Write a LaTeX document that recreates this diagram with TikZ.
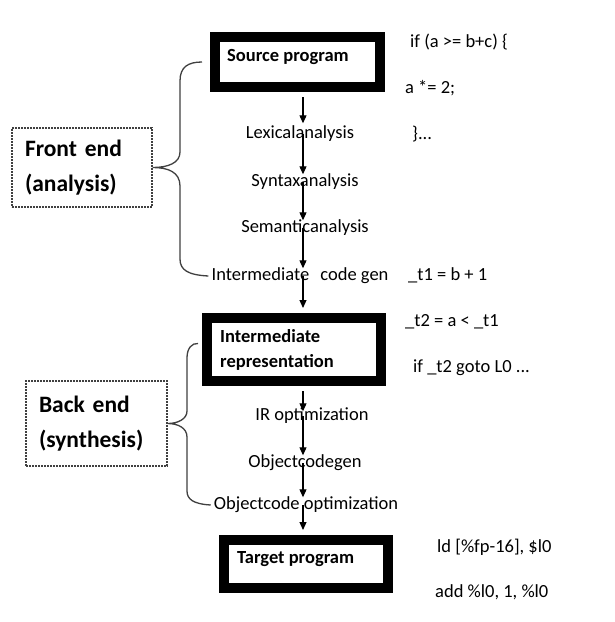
\documentclass[tikz,border=0pt]{standalone}
\usepackage{fontspec}
\setmainfont{Carlito}
\usetikzlibrary{arrows.meta,calc}
\begin{document}
\begin{tikzpicture}[x=1pt,y=-1pt,
 every node/.style={inner sep=0pt},
 lbl/.style={font=\fontsize{18.5}{22}\selectfont, text height=13pt, text depth=4pt},
 code/.style={lbl, anchor=west},
 bigbox/.style={draw, line width=10pt, inner sep=0pt},
 boxtext/.style={anchor=west, font=\fontsize{18.5}{25}\selectfont\bfseries, align=left},
 endbox/.style={draw=black!75, line width=1.3pt, dash pattern=on 1.6pt off 1.4pt, align=left,
   font=\fontsize{23.5}{35}\selectfont\bfseries, inner xsep=13pt},
 arr/.style={line width=1.1pt, -{Triangle[width=7pt,length=8pt]}},
 brc/.style={line width=1.3pt, black!75},
]
\fill[white] (0,0) rectangle (614,622);
\useasboundingbox (0,0) rectangle (614,622);
\coordinate (spine) at (303,0);

% main boxes
\node[bigbox, minimum width=165pt, minimum height=50pt] (src) at (297.5,62) {};
\node[boxtext] (srct) at (227,57) {Source program};
\node[bigbox, minimum width=174pt, minimum height=63pt] (ir) at (294,349.5) {};
\node[boxtext] (irt) at (220,349.5) {Intermediate\\representation};
\node[bigbox, minimum width=164pt, minimum height=48pt] (tgt) at (306,564) {};
\node[boxtext] (tgtt) at (237,559) {Target program};

% flow labels
\node[lbl] (lex) at (300,134) {Lexicalanalysis};
\node[lbl] (syn) at (305,182) {Syntaxanalysis};
\node[lbl] (sem) at (305,228) {Semanticanalysis};
\node[lbl] (icg) at (300,276) {Intermediate\hspace{0.6em}code gen};
\node[lbl] (iro) at (312,416) {IR optimization};
\node[lbl] (ocg) at (305,463) {Objectcodegen};
\node[lbl] (oco) at (306,505) {Objectcode optimization};

% front / back end
\node[endbox, text width=114pt, minimum height=79pt] (fe) at (82,167.5) {Front end\\(analysis)};
\node[endbox, text width=115pt, minimum height=85pt] (be) at (96.5,423.5) {Back end\\(synthesis)};

% code
\node[code] (c1) at (410,43) {if (a >= b+c) \{};
\node[code] (c2) at (405,89) {a *= 2;};
\node[code] (c3) at (412,135) {\}...};
\node[code] (c4) at (408,276) {\_t1 = b + 1};
\node[code] (c5) at (405,322) {\_t2 = a < \_t1};
\node[code] (c6) at (413,368) {if \_t2 goto L0 ...};
\node[code] (c7) at (437,548) {ld [\%fp-16], \$l0};
\node[code] (c8) at (435,593) {add \%l0, 1, \%l0};

% arrows
\draw[arr] ([yshift=-5pt]src.south -| spine) -- ([yshift=2pt]lex.north -| spine);
\draw[arr] (lex.center -| spine) -- ([yshift=-1pt]syn.north -| spine);
\draw[arr] (syn.center -| spine) -- ([yshift=-1pt]sem.north -| spine);
\draw[arr] (sem.center -| spine) -- ([yshift=-1pt]icg.north -| spine);
\draw[arr] (icg.center -| spine) -- ([yshift=5pt]ir.north -| spine);
\draw[arr] ([yshift=-5pt]ir.south -| spine) -- ([yshift=-4pt]iro.north -| spine);
\draw[arr] (iro.center -| spine) -- ([yshift=-1pt]ocg.north -| spine);
\draw[arr] (ocg.center -| spine) -- ([yshift=-1pt]oco.north -| spine);
\draw[arr] (oco.center -| spine) -- ([yshift=5pt]tgt.north -| spine);

% braces
\draw[brc] ([xshift=-8pt]src.west) .. controls (188,62) and (180,67) .. (180,81)
  -- (180,152) .. controls (180,163) and (168,167.5) .. (fe.east)
  .. controls (168,167.5) and (180,172) .. (180,186)
  -- (180,259) .. controls (180,270) and (188,275) .. ([xshift=-3pt]icg.west);
\draw[brc] ([xshift=-4pt,yshift=6pt]ir.west) .. controls (192,343) and (187,348) .. (187,358)
  -- (187,411) .. controls (187,419) and (178,423.5) .. (be.east)
  .. controls (178,423.5) and (187,428) .. (187,437)
  -- (187,491) .. controls (187,499) and (193,504) .. ([xshift=-3pt]oco.west);
\end{tikzpicture}
\end{document}
